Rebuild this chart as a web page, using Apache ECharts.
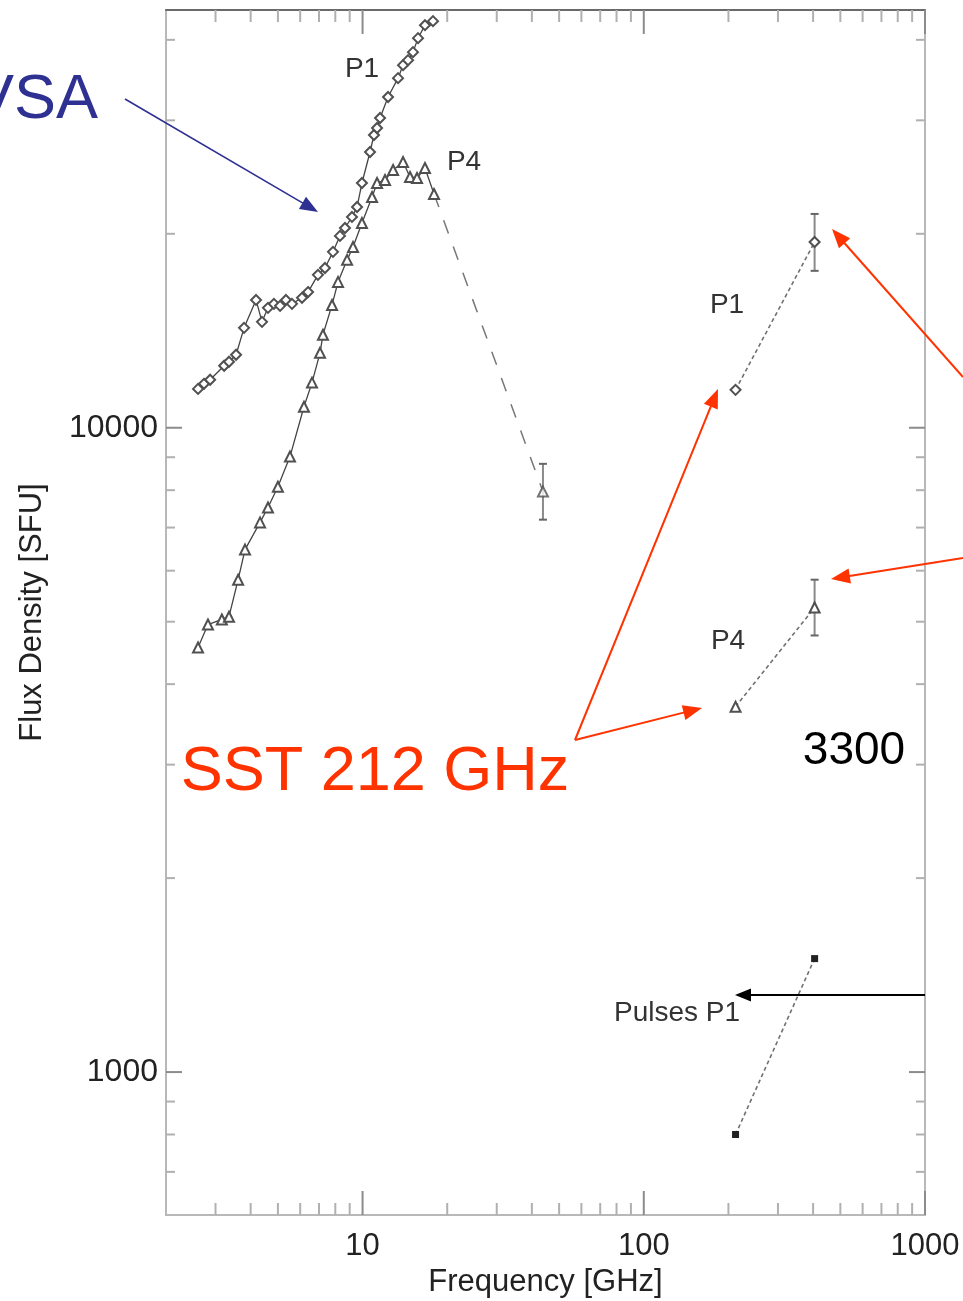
<!DOCTYPE html>
<html><head><meta charset="utf-8">
<script src="https://cdn.jsdelivr.net/npm/echarts@6/dist/echarts.min.js"></script>
<style>html,body{margin:0;padding:0;background:#fff}#c{width:963px;height:1301px}</style>
</head><body><div id="c"></div>
<script>
// ---- data ----
const vsaP1Freq = [2.60, 2.73, 2.87, 3.22, 3.35, 3.55, 3.79, 4.18, 4.39, 4.61, 4.84, 5.09, 5.34, 5.61, 6.09, 6.40, 6.94, 7.35, 7.85, 8.31, 8.66, 9.17, 9.56, 9.95, 10.63, 10.98, 11.26, 11.54, 12.32, 13.37, 13.93, 14.51, 15.11, 15.75, 16.67, 17.80];
const vsaP1Flux = [11490, 11700, 11870, 12480, 12660, 12980, 14290, 15790, 14600, 15350, 15570, 15460, 15790, 15570, 15910, 16240, 17270, 17700, 18750, 19850, 20420, 21240, 22010, 23980, 26790, 28470, 29190, 30250, 32610, 34880, 36540, 37200, 38280, 40240, 42150, 42760];
const vsaP4Freq = [2.60, 2.82, 3.16, 3.35, 3.61, 3.82, 4.32, 4.61, 5.00, 5.52, 6.19, 6.61, 7.06, 7.23, 7.79, 8.18, 8.81, 9.25, 9.95, 10.81, 11.26, 12.02, 12.84, 13.93, 14.75, 15.62, 16.67, 17.95];
const vsaP4Flux = [4560, 4950, 5040, 5090, 5810, 6470, 7130, 7520, 8100, 9020, 10780, 11750, 13070, 13940, 15510, 16840, 18220, 19080, 20790, 22810, 23980, 24240, 25120, 25850, 24500, 24410, 25300, 23060];
const p4HighFreq = [43.8];
const p4HighFlux = [7960];
const p4HighErr = [[7200, 8790]];
const sstFreq = [212, 405];
const sstP1Flux = [11450, 19420];
const sstP1Err = [null, [17520, 21470]];
const sstP4Flux = [3690, 5260];
const sstP4Err = [null, [4760, 5810]];
const pulsesP1Flux = [800, 1500];
const xMajorTicks = [10, 100, 1000];
const xMinorTicks = [3, 4, 5, 6, 7, 8, 9, 20, 30, 40, 50, 60, 70, 80, 90, 200, 300, 400, 500, 600, 700, 800, 900];
const yMajorTicks = [1000, 10000];
const yMinorTicks = [700, 800, 900, 2000, 3000, 4000, 5000, 6000, 7000, 8000, 9000, 20000, 30000, 40000];
const X_MIN = 2, X_MAX = 1000, Y_MIN = 600, Y_MAX = 44500;

// ---- helpers ----
const FONT = '"Liberation Sans", Arial, Helvetica, sans-serif';
const zip = (a, b) => a.map((v, i) => [v, b[i]]);
function isPow10(v) { const l = Math.log10(v); return Math.abs(l - Math.round(l)) < 1e-6; }

const xTickData = xMajorTicks.map(v => [v, Y_MIN, 1]).concat(xMinorTicks.map(v => [v, Y_MIN, 0]));
const yTickData = yMajorTicks.map(v => [X_MIN, v, 1]).concat(yMinorTicks.map(v => [X_MIN, v, 0]));

function errData(freqs, errs) {
  const out = [];
  freqs.forEach((f, i) => { if (errs[i]) out.push([f, errs[i][0], errs[i][1]]); });
  return out;
}
const errorBars = errData(p4HighFreq, p4HighErr)
  .concat(errData(sstFreq, sstP1Err))
  .concat(errData(sstFreq, sstP4Err));

function arrow(x1, y1, x2, y2, color, lw, L, W) {
  const dx = x2 - x1, dy = y2 - y1, d = Math.hypot(dx, dy), ux = dx / d, uy = dy / d;
  const bx = x2 - ux * L, by = y2 - uy * L;
  return [
    { type: 'line', z: 100, shape: { x1, y1, x2: bx + ux * 2, y2: by + uy * 2 }, style: { stroke: color, lineWidth: lw } },
    { type: 'polygon', z: 100, shape: { points: [[x2, y2], [bx - uy * W, by + ux * W], [bx + uy * W, by - ux * W]] }, style: { fill: color } }
  ];
}
function label(text, x, y, size, color, align) {
  return { type: 'text', z: 100, x, y, style: { text, fill: color, font: size + 'px ' + FONT, align: align || 'center', verticalAlign: 'middle' } };
}

const RED = '#ff3300', BLUE = '#2e3192';
const MARK = '#505050';

const chart = echarts.init(document.getElementById('c'), null, { renderer: 'canvas' });
chart.setOption({
  backgroundColor: '#fff',
  animation: false,
  grid: { left: 166, right: 38, top: 10, bottom: 86, show: true, borderColor: '#b8b8b8', borderWidth: 2, containLabel: false, outerBoundsMode: 'none' },
  xAxis: [{
    type: 'log', logBase: 10, min: X_MIN, max: X_MAX,
    name: 'Frequency [GHz]', nameLocation: 'middle', nameGap: 46,
    nameTextStyle: { fontSize: 31, color: '#222', fontFamily: FONT },
    axisLine: { show: false }, axisTick: { show: false }, splitLine: { show: false }, minorTick: { show: false },
    axisLabel: { margin: 16, fontSize: 31, color: '#222', fontFamily: FONT, formatter: v => isPow10(v) ? String(Math.round(v)) : '' }
  }, {
    type: 'log', logBase: 10, min: X_MIN, max: X_MAX, position: 'top',
    axisLine: { show: true, lineStyle: { color: '#6a6a6a', width: 2 } },
    axisTick: { show: false }, axisLabel: { show: false }, splitLine: { show: false }
  }],
  yAxis: {
    type: 'log', logBase: 10, min: Y_MIN, max: Y_MAX,
    name: 'Flux Density [SFU]', nameLocation: 'middle', nameGap: 118,
    nameTextStyle: { fontSize: 31, color: '#222', fontFamily: FONT },
    axisLine: { show: false }, axisTick: { show: false }, splitLine: { show: false }, minorTick: { show: false },
    axisLabel: { margin: 8, fontSize: 32, color: '#222', fontFamily: FONT, formatter: v => isPow10(v) ? String(Math.round(v)) : '' }
  },
  series: [
    { // x ticks bottom & top
      type: 'custom', silent: true, z: 1, encode: { x: 0, y: 1 }, data: xTickData,
      renderItem(params, api) {
        const v = api.value(0), major = api.value(2);
        const b = api.coord([v, Y_MIN]), t = api.coord([v, Y_MAX]);
        const len = major ? 24 : 12, col = major ? '#8c8c8c' : '#b0b0b0';
        return { type: 'group', children: [
          { type: 'line', shape: { x1: b[0], y1: b[1], x2: b[0], y2: b[1] - len }, style: { stroke: col, lineWidth: 2 } },
          { type: 'line', shape: { x1: t[0], y1: t[1], x2: t[0], y2: t[1] + len }, style: { stroke: col, lineWidth: 2 } }
        ] };
      }
    },
    { // y ticks left & right
      type: 'custom', silent: true, z: 1, encode: { x: 0, y: 1 }, data: yTickData,
      renderItem(params, api) {
        const v = api.value(1), major = api.value(2);
        const l = api.coord([X_MIN, v]), r = api.coord([X_MAX, v]);
        const len = major ? 16 : 9, col = major ? '#8c8c8c' : '#b0b0b0';
        return { type: 'group', children: [
          { type: 'line', shape: { x1: l[0], y1: l[1], x2: l[0] + len, y2: l[1] }, style: { stroke: col, lineWidth: 2 } },
          { type: 'line', shape: { x1: r[0], y1: r[1], x2: r[0] - len, y2: r[1] }, style: { stroke: col, lineWidth: 2 } }
        ] };
      }
    },
    { // error bars
      type: 'custom', silent: true, z: 2, encode: { x: 0, y: [1, 2] }, data: errorBars,
      renderItem(params, api) {
        const x = api.value(0);
        const lo = api.coord([x, api.value(1)]), hi = api.coord([x, api.value(2)]);
        return { type: 'group', children: [
          { type: 'line', shape: { x1: lo[0], y1: lo[1], x2: hi[0], y2: hi[1] }, style: { stroke: '#8a8a8a', lineWidth: 2 } },
          { type: 'line', shape: { x1: lo[0] - 4, y1: lo[1], x2: lo[0] + 4, y2: lo[1] }, style: { stroke: '#666', lineWidth: 2 } },
          { type: 'line', shape: { x1: hi[0] - 4, y1: hi[1], x2: hi[0] + 4, y2: hi[1] }, style: { stroke: '#666', lineWidth: 2 } }
        ] };
      }
    },
    {
      name: 'VSA P1', type: 'line', z: 3, data: zip(vsaP1Freq, vsaP1Flux),
      symbol: 'emptyDiamond', symbolSize: 10, showAllSymbol: true,
      lineStyle: { color: '#444', width: 1.3 }, itemStyle: { color: MARK, borderColor: MARK, borderWidth: 1.5 }
    },
    {
      name: 'VSA P4', type: 'line', z: 3, data: zip(vsaP4Freq, vsaP4Flux),
      symbol: 'emptyTriangle', symbolSize: 10, showAllSymbol: true,
      lineStyle: { color: '#444', width: 1.3 }, itemStyle: { color: MARK, borderColor: MARK, borderWidth: 1.5 }
    },
    {
      name: 'P4 extension', type: 'line', z: 3,
      data: [[vsaP4Freq[vsaP4Freq.length - 1], vsaP4Flux[vsaP4Flux.length - 1]]].concat(zip(p4HighFreq, p4HighFlux)),
      symbol: 'none', lineStyle: { color: '#777', width: 1.5, type: [14, 14] }
    },
    {
      name: 'P4 44 GHz', type: 'scatter', z: 4, data: zip(p4HighFreq, p4HighFlux),
      symbol: 'emptyTriangle', symbolSize: 10, itemStyle: { color: MARK, borderColor: MARK, borderWidth: 1.5 }
    },
    {
      name: 'SST P1', type: 'line', z: 3, data: zip(sstFreq, sstP1Flux),
      symbol: 'emptyDiamond', symbolSize: 10,
      lineStyle: { color: '#707070', width: 1.6, type: [4, 3] }, itemStyle: { color: MARK, borderColor: MARK, borderWidth: 1.5 }
    },
    {
      name: 'SST P4', type: 'line', z: 3, data: zip(sstFreq, sstP4Flux),
      symbol: 'emptyTriangle', symbolSize: 10,
      lineStyle: { color: '#707070', width: 1.6, type: [4, 3] }, itemStyle: { color: MARK, borderColor: MARK, borderWidth: 1.5 }
    },
    {
      name: 'Pulses P1', type: 'line', z: 3, data: zip(sstFreq, pulsesP1Flux),
      symbol: 'rect', symbolSize: 7,
      lineStyle: { color: '#707070', width: 1.6, type: [4, 3] }, itemStyle: { color: '#222' }
    }
  ],
  graphic: [
    label('P1', 362, 69, 28, '#333'),
    label('P4', 464, 162, 28, '#333'),
    label('P1', 727, 305, 28, '#333'),
    label('P4', 728, 641, 28, '#333'),
    label('Pulses P1', 677, 1013, 28, '#333'),
    label('3300', 854, 751, 46, '#000'),
    label('SST 212 GHz', 375, 773, 63, RED),
    label('VSA', 98, 101, 63, BLUE, 'right'),
    ...arrow(125, 99, 318, 212, BLUE, 1.6, 18, 7),
    ...arrow(575, 740, 718, 389, RED, 2, 19, 7.5),
    ...arrow(575, 740, 702, 708, RED, 2, 19, 7.5),
    ...arrow(963, 377, 832, 229, RED, 2, 19, 7.5),
    ...arrow(963, 558, 831, 579, RED, 2, 19, 7.5),
    ...arrow(925, 995, 735, 995, '#000', 2, 16, 6.5)
  ]
});
</script></body></html>
